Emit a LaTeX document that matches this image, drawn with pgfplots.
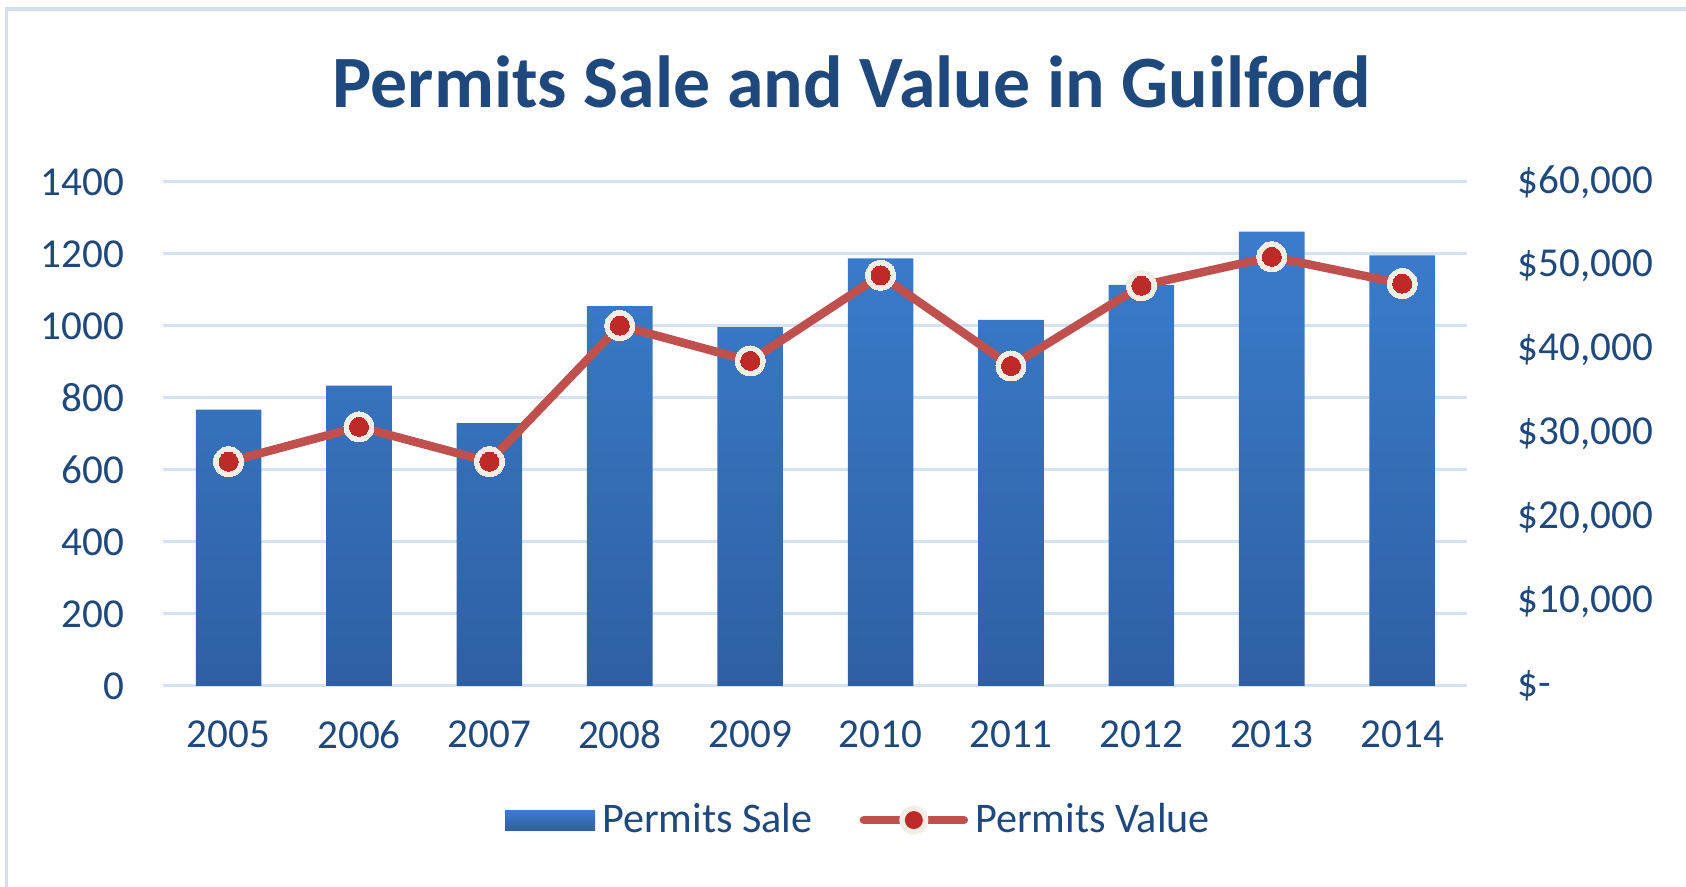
\documentclass[border=0pt]{standalone}
\usepackage{fontspec}
\setmainfont{Carlito}
\usepackage{pgfplots}
\pgfplotsset{compat=1.18}

\definecolor{textBlue}{HTML}{1F497D}
\definecolor{gridBlue}{HTML}{D5E2F2}
\definecolor{frameBlue}{HTML}{D3DFEE}
\definecolor{barTop}{HTML}{3A7DCC}
\definecolor{barBot}{HTML}{2F5FA3}
\definecolor{lineRed}{HTML}{C0504D}
\definecolor{dotRed}{HTML}{BE2A28}
\definecolor{ring}{HTML}{F1EFE5}

\begin{document}
\begin{tikzpicture}
\useasboundingbox (0,0) rectangle (168.6mm,88.7mm);
\draw[frameBlue, line width=0.35mm] (0.65mm,0mm) -- (0.65mm,87.8mm) -- (168.6mm,87.8mm);
\node[font=\fontsize{21}{25}\selectfont\bfseries, text=textBlue, anchor=base] at (85.2mm,77.9mm) {Permits Sale and Value in Guilford};

\pgfplotsset{
  every axis/.append style={
    scale only axis, width=130.4mm, height=50.4mm,
    at={(16.34mm,20.1mm)}, anchor=south west,
    xmin=-0.5, xmax=9.5,
    axis line style={draw=none},
    major tick length=0pt,
    tick label style={font=\fontsize{11.7}{14}\selectfont, text=textBlue},
    /pgf/number format/assume math mode=true,
  }
}

\begin{axis}[
  ymin=0, ymax=1400,
  ytick={0,200,...,1400},
  xtick={0,...,9},
  xticklabels={2005,2006,2007,2008,2009,2010,2011,2012,2013,2014},
  ymajorgrids,
  grid style={gridBlue, line width=0.3mm},
  axis y line*=left, axis x line*=bottom,
  yticklabel style={xshift=-2.7mm},
  xticklabel style={yshift=-2.2mm},
  yticklabel style={/pgf/number format/1000 sep={}},
]
\addplot[ybar, bar width=6.56mm, draw=none, top color=barTop, bottom color=barBot]
  coordinates {(0,768) (1,834) (2,730) (3,1055) (4,997) (5,1188) (6,1017) (7,1114) (8,1262) (9,1196)};
\end{axis}

\begin{axis}[
  ymin=0, ymax=60000,
  scaled y ticks=false,
  ytick={0,10000,...,60000},
  yticklabels={\$-,\$10{,}000,\$20{,}000,\$30{,}000,\$40{,}000,\$50{,}000,\$60{,}000},
  axis y line*=right, axis x line=none,
  yticklabel style={xshift=3.8mm, anchor=west},
  legend style={at={(0.535,-0.266)}, anchor=center, draw=none, fill=none,
    legend columns=2, font=\fontsize{12}{14}\selectfont, text=textBlue,
    /tikz/every even column/.append style={column sep=4mm}},
]
\addlegendimage{legend image code/.code={
  \path[draw=none, top color=barTop, bottom color=barBot] (0mm,-1mm) rectangle (9mm,1mm);}}
\addlegendentry{Permits Sale}
\addplot[lineRed, line width=0.85mm, mark=*, mark size=1.5mm,
  mark options={fill=ring, draw=ring, line width=0pt},
  legend image code/.code={
    \draw[lineRed, line width=0.85mm, line cap=round] (0mm,0mm) -- (10mm,0mm);
    \path[draw=none, fill=ring] (5mm,0mm) circle (1.45mm);
    \path[draw=none, fill=dotRed] (5mm,0mm) circle (0.9mm);}]
  coordinates {(0,26700) (1,30850) (2,26700) (3,42900) (4,38700) (5,48900) (6,38100) (7,47650) (8,51100) (9,47900)};
\addlegendentry{Permits Value}
\addplot[dotRed, only marks, mark=*, mark size=0.95mm, mark options={fill=dotRed, draw=dotRed, line width=0pt}, forget plot]
  coordinates {(0,26700) (1,30850) (2,26700) (3,42900) (4,38700) (5,48900) (6,38100) (7,47650) (8,51100) (9,47900)};
\end{axis}
\end{tikzpicture}
\end{document}
